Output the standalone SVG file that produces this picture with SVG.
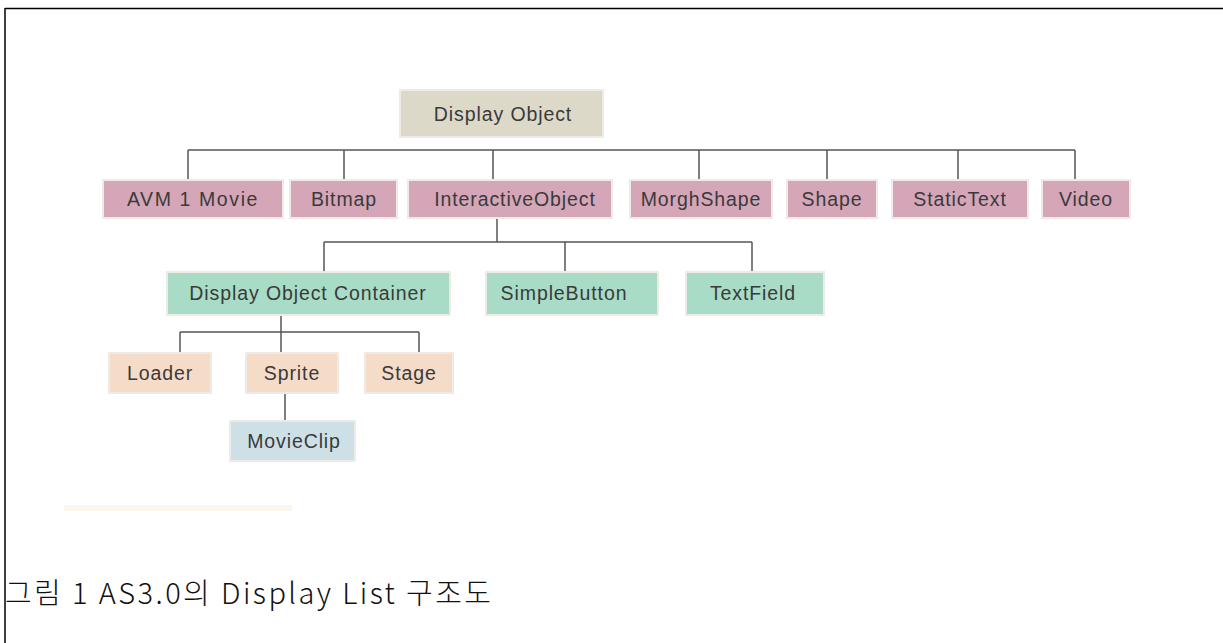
<svg xmlns="http://www.w3.org/2000/svg" width="1223" height="643" viewBox="0 0 1223 643">
  <style>
    .box { stroke: #eeeae6; stroke-width: 2; }
    .root { fill: #dcd9c9; }
    .pink { fill: #d4a6b8; }
    .green { fill: #a8dcc6; }
    .peach { fill: #f5dcc8; }
    .blue { fill: #cde0e6; }
    .lbl { font-family: "Liberation Sans", Arial, sans-serif; font-size: 19.5px; letter-spacing: 0.9px; fill: #3a3a3a; text-anchor: middle; }
    .conn { stroke: #555; stroke-width: 1.5; fill: none; }
    .caption { font-family: "Noto Sans CJK KR", "Noto Sans", sans-serif; font-size: 29px; font-weight: 300; fill: #111; }
  </style>
  <rect x="0" y="0" width="1223" height="643" fill="#ffffff"/>
  <g id="frame">
    <line x1="5" y1="8.5" x2="1223" y2="8.5" stroke="#000" stroke-width="1.5"/>
    <line x1="5" y1="8" x2="5" y2="643" stroke="#000" stroke-width="1.5"/>
  </g>
  <g id="connectors">
    <path class="conn" d="M188 150 H1075 M188 150 V180 M344 150 V180 M493 150 V180 M699 150 V180 M827 150 V180 M958 150 V180 M1075 150 V180"/>
    <path class="conn" d="M497 218 V242 M324 242 H752 M324 242 V272 M565 242 V272 M752 242 V272"/>
    <path class="conn" d="M281 315 V353 M180 332 H419 M180 332 V353 M419 332 V353"/>
    <path class="conn" d="M285 393 V421"/>
  </g>
  <g id="display-object">
    <rect class="box root" x="400" y="90" width="203" height="47"/>
    <text class="lbl" x="503" y="121">Display Object</text>
  </g>
  <g id="avm1movie">
    <rect class="box pink" x="103" y="180" width="180" height="38"/>
    <text class="lbl" x="193" y="206" style="letter-spacing:1.6px">AVM 1 Movie</text>
  </g>
  <g id="bitmap">
    <rect class="box pink" x="290" y="180" width="107" height="38"/>
    <text class="lbl" x="344" y="206">Bitmap</text>
  </g>
  <g id="interactiveobject">
    <rect class="box pink" x="408" y="180" width="204" height="38"/>
    <text class="lbl" x="515" y="206">InteractiveObject</text>
  </g>
  <g id="morghshape">
    <rect class="box pink" x="630" y="180" width="142" height="38"/>
    <text class="lbl" x="701" y="206">MorghShape</text>
  </g>
  <g id="shape">
    <rect class="box pink" x="787" y="180" width="90" height="38"/>
    <text class="lbl" x="832" y="206">Shape</text>
  </g>
  <g id="statictext">
    <rect class="box pink" x="892" y="180" width="136" height="38"/>
    <text class="lbl" x="960" y="206">StaticText</text>
  </g>
  <g id="video">
    <rect class="box pink" x="1042" y="180" width="88" height="38"/>
    <text class="lbl" x="1086" y="206">Video</text>
  </g>
  <g id="displayobjectcontainer">
    <rect class="box green" x="167" y="272" width="283" height="43"/>
    <text class="lbl" x="308" y="300">Display Object Container</text>
  </g>
  <g id="simplebutton">
    <rect class="box green" x="486" y="272" width="172" height="43"/>
    <text class="lbl" x="564" y="300">SimpleButton</text>
  </g>
  <g id="textfield">
    <rect class="box green" x="686" y="272" width="138" height="43"/>
    <text class="lbl" x="753" y="300">TextField</text>
  </g>
  <g id="loader">
    <rect class="box peach" x="109" y="353" width="102" height="40"/>
    <text class="lbl" x="160" y="380">Loader</text>
  </g>
  <g id="sprite">
    <rect class="box peach" x="246" y="353" width="92" height="40"/>
    <text class="lbl" x="292" y="380">Sprite</text>
  </g>
  <g id="stage">
    <rect class="box peach" x="365" y="353" width="88" height="40"/>
    <text class="lbl" x="409" y="380">Stage</text>
  </g>
  <g id="movieclip">
    <rect class="box blue" x="230" y="421" width="125" height="40"/>
    <text class="lbl" x="294" y="448">MovieClip</text>
  </g>
  <rect x="64" y="505" width="228" height="6" fill="#faf7ef"/>
  <g id="caption">
    <text class="caption" x="5" y="604" textLength="486" lengthAdjust="spacing">그림 1 AS3.0의 Display List 구조도</text>
  </g>
</svg>
